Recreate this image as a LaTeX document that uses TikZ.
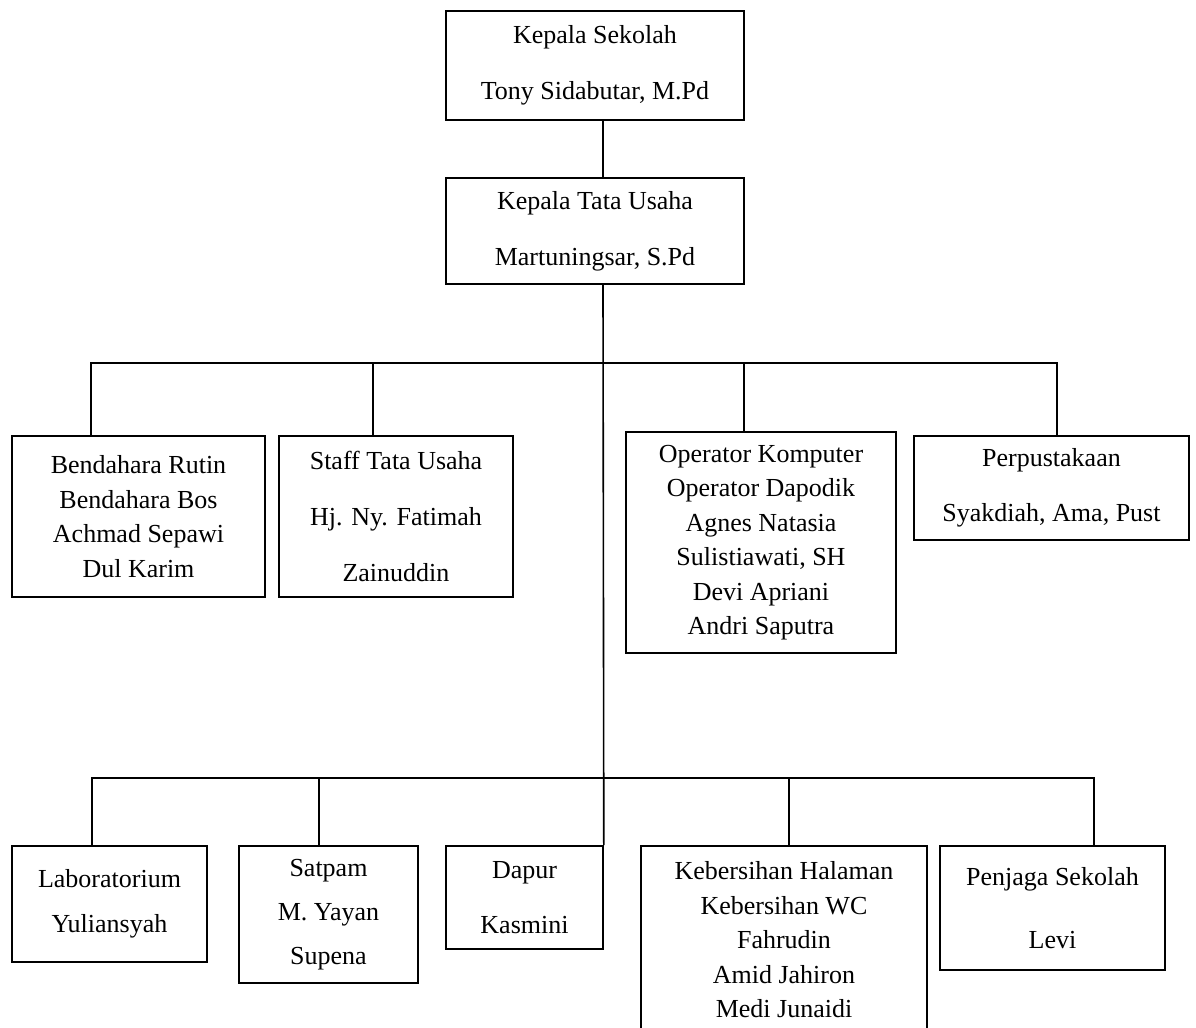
\documentclass[tikz,border=0pt]{standalone}
\usepackage{fontspec}
\setmainfont{Liberation Serif}

\begin{document}
\begin{tikzpicture}[x=0.5pt,y=0.5pt,yscale=-1,
	unit/.style={draw, rectangle, line width=0.8pt, inner sep=0pt, align=center, font=\fontsize{13}{17.25}\selectfont},
	link/.style={line width=0.8pt}]
				%set diagram to the size of the page
				\useasboundingbox (0,0) rectangle (1196,1028);
				
				%Shape: Rectangle [Kepala Sekolah]
				\node[unit, minimum width=149pt, minimum height=54.5pt] (ks) at (595,65.5) {Kepala Sekolah\\[10.75pt]Tony Sidabutar, M.Pd};
				%Shape: Rectangle [Kepala Tata Usaha]
				\node[unit, minimum width=149pt, minimum height=53pt] (ktu) at (595,231) {Kepala Tata Usaha\\[10.75pt]Martuningsar, S.Pd};
				
				%Shape: Rectangle [Bendahara]
				\node[unit, minimum width=126.5pt, minimum height=80.5pt] (bend) at (138.5,516.5) {Bendahara Rutin\\Bendahara Bos\\Achmad Sepawi\\Dul Karim};
				%Shape: Rectangle [Staff Tata Usaha]
				\node[unit, minimum width=117pt, minimum height=80.5pt] (staff) at (396,516.5) {Staff Tata Usaha\\[10.75pt]Hj. Ny. Fatimah\\[10.75pt]Zainuddin};
				%Shape: Rectangle [Operator]
				\node[unit, minimum width=135pt, minimum height=110.5pt] (oper) at (761,542.5) {Operator Komputer\\Operator Dapodik\\Agnes Natasia\\Sulistiawati, SH\\Devi Apriani\\Andri Saputra};
				%Shape: Rectangle [Perpustakaan]
				\node[unit, minimum width=137.5pt, minimum height=52pt] (pust) at (1051.5,488) {Perpustakaan\\[10.25pt]Syakdiah, Ama, Pust};
				
				%Shape: Rectangle [Laboratorium]
				\node[unit, minimum width=97.5pt, minimum height=58pt] (lab) at (109.5,904) {Laboratorium\\[5.25pt]Yuliansyah};
				%Shape: Rectangle [Satpam]
				\node[unit, minimum width=89.5pt, minimum height=68.5pt] (satpam) at (328.5,914.5) {Satpam\\[4.75pt]M. Yayan\\[4.75pt]Supena};
				%Shape: Rectangle [Dapur]
				\node[unit, minimum width=78.5pt, minimum height=51.5pt] (dapur) at (524.5,897.5) {Dapur\\[10.25pt]Kasmini};
				%Shape: Rectangle [Kebersihan]
				\node[unit, minimum width=143pt, minimum height=94pt] (bersih) at (784,940) {Kebersihan Halaman\\Kebersihan WC\\Fahrudin\\Amid Jahiron\\Medi Junaidi};
				%Shape: Rectangle [Penjaga Sekolah]
				\node[unit, minimum width=112.5pt, minimum height=62pt] (jaga) at (1052.5,908) {Penjaga Sekolah\\[14.25pt]Levi};
				
				%Bus points
				\coordinate (bus1) at (603,363);
				\coordinate (bus2) at (603,778);
				
				%Straight Lines
				\draw[link] ([xshift=4pt]ks.south) -- ([xshift=4pt]ktu.north);
				\draw[link] ([xshift=4pt]ktu.south) -- (dapur.north east);
				%Straight Lines [upper row]
				\draw[link] ([xshift=-23.75pt]bend.north) |- (bus1) -| ([xshift=2.75pt]pust.north);
				\draw[link] ([xshift=-11.5pt]staff.north) -- ([xshift=-11.5pt]staff.north |- bus1);
				\draw[link] ([xshift=-8.5pt]oper.north) -- ([xshift=-8.5pt]oper.north |- bus1);
				%Straight Lines [lower row]
				\draw[link] ([xshift=-8.75pt]lab.north) |- (bus2) -| ([xshift=20.75pt]jaga.north);
				\draw[link] ([xshift=-4.75pt]satpam.north) -- ([xshift=-4.75pt]satpam.north |- bus2);
				\draw[link] ([xshift=2.5pt]bersih.north) -- ([xshift=2.5pt]bersih.north |- bus2);
				
\end{tikzpicture}
\end{document}
